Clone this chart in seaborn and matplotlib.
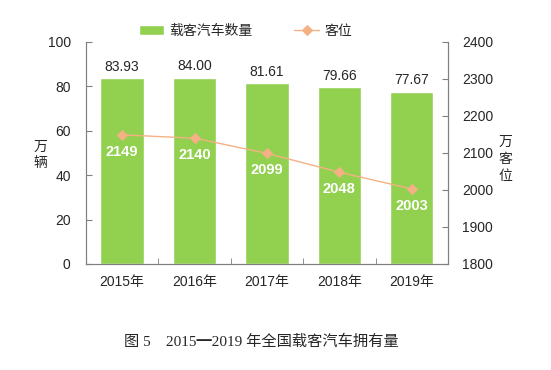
import numpy as np
import pandas as pd
import matplotlib
matplotlib.use('Agg')
import matplotlib.pyplot as plt
import seaborn as sns

years = ['2015年', '2016年', '2017年', '2018年', '2019年']
vehicles = [83.93, 84.00, 81.61, 79.66, 77.67]   # 万辆
seats = [2149, 2140, 2099, 2048, 2003]           # 万客位

sns.set_style('white')
plt.rcParams['font.family'] = ['Liberation Sans', 'Noto Sans CJK SC']
plt.rcParams['axes.unicode_minus'] = False

green = '#92D050'
orange = '#F4B183'
gray = '#808080'

df = pd.DataFrame({'year': years, 'vehicles': vehicles, 'seats': seats})

fig = plt.figure(figsize=(5.51, 3.70), dpi=100)
ax = fig.add_axes([0.156, 0.2865, 0.657, 0.6])

sns.barplot(data=df, x='year', y='vehicles', color=green, saturation=1,
            width=0.6, ax=ax, label='载客汽车数量')
ax.bar_label(ax.containers[0], fmt='%.2f', padding=3, fontsize=10)
ax.set_ylim(0, 100)
ax.set_xlim(-0.5, 4.5)
ax.set_yticks(range(0, 101, 20))
ax.set_xlabel('')
ax.set_ylabel('')

ax2 = ax.twinx()
sns.lineplot(x=np.arange(len(years)), y=seats, ax=ax2, color=orange,
             marker='D', markersize=5, markeredgecolor=orange, linewidth=1,
             label='客位', legend=False)
ax2.set_ylim(1800, 2400)
ax2.set_yticks(range(1800, 2401, 100))
for i, v in enumerate(seats):
    ax2.annotate(str(v), (i, v), xytext=(0, -17), textcoords='offset pixels',
                 ha='center', va='center', color='white', fontsize=10.5,
                 fontweight='bold')

for a in (ax, ax2):
    for s in a.spines.values():
        s.set_color(gray)
        s.set_linewidth(0.8)
    a.spines['top'].set_visible(False)
    a.grid(False)

ax.tick_params(axis='y', direction='in', length=4, color=gray, pad=11,
               labelsize=10, left=True)
ax2.tick_params(axis='y', direction='in', length=4, color=gray, pad=10,
                labelsize=10, right=True)
ax.tick_params(axis='x', length=0, pad=8, labelsize=10)
ax.set_xticks(np.arange(-0.5, 5, 1), minor=True)
ax.tick_params(axis='x', which='minor', direction='in', length=4, color=gray,
               bottom=True)

fig.text(0.074, 0.581, '万\n辆', ha='center', va='center', fontsize=10,
         linespacing=1.25, family=['Noto Sans CJK SC'])
fig.text(0.917, 0.57, '万\n客\n位', ha='center', va='center', fontsize=10,
         linespacing=1.25, family=['Noto Sans CJK SC'])

h1, l1 = ax.get_legend_handles_labels()
h2, l2 = ax2.get_legend_handles_labels()
if ax.get_legend() is not None:
    ax.get_legend().remove()
fig.legend(h1 + h2, l1 + l2, loc='center', bbox_to_anchor=(0.446, 0.916),
           ncol=2, frameon=False, handlelength=1.8, handletextpad=0.4,
           columnspacing=3.0, prop={'family': ['Noto Sans CJK SC'], 'size': 10})

fig.text(0.474, 0.076, '图 5　2015━2019 年全国载客汽车拥有量', ha='center',
         va='center', fontsize=11,
         family=['Liberation Serif', 'Noto Sans CJK SC'])

fig.savefig('out.png', dpi=100)
